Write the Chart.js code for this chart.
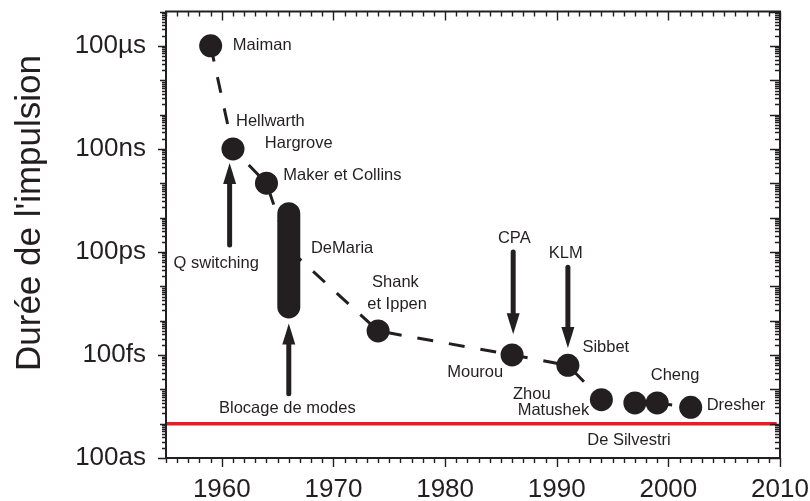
<!DOCTYPE html>
<html>
<head>
<meta charset="utf-8">
<script src="https://cdn.jsdelivr.net/npm/chart.js@4.4.0/dist/chart.umd.min.js"></script>
<style>
  html, body { margin: 0; padding: 0; background: #fff; }
  #wrap { width: 810px; height: 501px; }
</style>
</head>
<body>
<div id="wrap"><canvas id="mainChart" width="810" height="501"></canvas></div>
<script>
// milestones of the shortest laser pulse (year, duration in s)
const years = [1959, 1961, 1964, 1966, 1974, 1986, 1991, 1994, 1997, 1999, 2002];
const durations = [1e-4, 1e-7, 1e-8, 1.2e-10, 5e-13, 1e-13, 5e-14, 5e-15, 4e-15, 4e-15, 3e-15];
const pointNames = ["Maiman", "Hellwarth", "Maker et Collins", "DeMaria", "Shank et Ippen",
  "Mourou", "Sibbet", "Zhou", "", "Cheng", "Dresher"];

// spread of the DeMaria mode-locked pulses
const demariaYears = [1966, 1966];
const demariaRange = [1.3e-9, 2.5e-12];

// the red 1 fs line
const limitYears = [1955, 2009.7];
const limitValues = [1e-15, 1e-15];

// axis ticks
const xTickValues = [1960, 1970, 1980, 1990, 2000, 2010];
const yTickValues = [1e-16, 1e-13, 1e-10, 1e-7, 1e-4];
const yTickLabels = ["100as", "100fs", "100ps", "100ns", "100µs"];

// text notes anchored at (year, duration)
const noteTexts = ["Maiman", "Hellwarth", "Hargrove", "Maker et Collins", "Q switching", "DeMaria",
  "Shank", "et Ippen", "CPA", "KLM", "Sibbet", "Mourou", "Cheng", "Zhou", "Matushek", "Dresher",
  "De Silvestri", "Blocage de modes"];
const noteYears = [1960.99, 1961.27, 1963.85, 1965.5, 1959.5, 1967.98,
  1975.55, 1975.7, 1986.2, 1990.8, 1992.3, 1982.7, 2000.6, 1986.08, 1986.5, 2003.43,
  1996.47, 1965.87];
const noteValues = [1e-4, 6.3e-7, 1.45e-7, 1.66e-8, 4.6e-11, 1.3e-10,
  1.26e-11, 2.9e-12, 2.5e-10, 9.3e-11, 1.7e-13, 3.2e-14, 2.6e-14, 6.9e-15, 2.5e-15, 3.4e-15,
  3.2e-16, 2.7e-15];
const noteAligns = ["left", "left", "left", "left", "center", "left",
  "center", "center", "center", "center", "left", "center", "center", "left", "left", "left",
  "center", "center"];

// arrows: year, tail value, tip value
const arrowYears = [1960.7, 1966, 1986.1, 1991];
const arrowFrom = [1.6e-10, 7.4e-15, 1e-10, 3.6e-11];
const arrowTo = [3.9e-8, 8.3e-13, 4e-13, 1.6e-13];

const ink = "#231f20";
const fontFamily = "'Liberation Sans', Arial, Helvetica, sans-serif";

// frame, minor ticks, arrows, notes and the axis title
const decorations = {
  id: "decorations",
  afterDatasetsDraw(chart) {
    const { ctx, chartArea: a, scales } = chart;
    const x = scales.x;
    const y = scales.y;
    ctx.save();

    ctx.strokeStyle = ink;
    ctx.lineWidth = 1.4;
    ctx.beginPath();
    for (let yr = 1955; yr <= 2010; yr++) {
      const px = Math.round(x.getPixelForValue(yr)) + 0.5;
      const len = yr % 10 === 0 ? 9 : 5;
      ctx.moveTo(px, a.bottom);
      ctx.lineTo(px, a.bottom + len);
      ctx.moveTo(px, a.top);
      ctx.lineTo(px, a.top + len);
    }
    for (let e = -16; e <= -3; e++) {
      for (let k = 1; k <= 9; k++) {
        if (e === -3 && k > 1) break;
        const py = Math.round(y.getPixelForValue(k * Math.pow(10, e))) + 0.5;
        let left = 4;
        let right = 5;
        if (k === 1) {
          left = (e + 16) % 3 === 0 ? 8 : 6;
          right = 10;
        }
        ctx.moveTo(a.left - left, py);
        ctx.lineTo(a.left, py);
        ctx.moveTo(a.right - right, py);
        ctx.lineTo(a.right, py);
      }
    }
    ctx.stroke();

    ctx.lineWidth = 2;
    ctx.strokeRect(a.left, a.top, a.right - a.left, a.bottom - a.top);

    // arrows
    ctx.fillStyle = ink;
    arrowYears.forEach((yr, i) => {
      const px = x.getPixelForValue(yr);
      const y0 = y.getPixelForValue(arrowFrom[i]);
      const y1 = y.getPixelForValue(arrowTo[i]);
      const dir = Math.sign(y1 - y0);
      const head = 21;
      ctx.lineWidth = 5;
      ctx.lineCap = "round";
      ctx.beginPath();
      ctx.moveTo(px, y0);
      ctx.lineTo(px, y1 - dir * (head - 2));
      ctx.stroke();
      ctx.beginPath();
      ctx.moveTo(px, y1);
      ctx.lineTo(px - 6.5, y1 - dir * head);
      ctx.lineTo(px + 6.5, y1 - dir * head);
      ctx.closePath();
      ctx.fill();
    });

    // notes
    ctx.font = "16.5px " + fontFamily;
    ctx.textBaseline = "middle";
    noteTexts.forEach((t, i) => {
      ctx.textAlign = noteAligns[i];
      ctx.fillText(t, x.getPixelForValue(noteYears[i]), y.getPixelForValue(noteValues[i]));
    });

    // y axis title
    ctx.translate(30, 213);
    ctx.rotate(-Math.PI / 2);
    ctx.textAlign = "center";
    ctx.font = "35px " + fontFamily;
    ctx.fillText("Durée de l'impulsion", 0, 0);
    ctx.restore();
  },
};

const ctx = document.getElementById("mainChart").getContext("2d");

const mainChart = new Chart(ctx, {
  type: "line",
  data: {
    datasets: [
      {
        label: "DeMaria",
        data: demariaYears.map((yr, i) => ({ x: yr, y: demariaRange[i] })),
        borderColor: ink,
        borderWidth: 23,
        borderCapStyle: "round",
        pointRadius: 0,
        order: 0,
      },
      {
        label: "Durée",
        data: years.map((yr, i) => ({ x: yr, y: durations[i] })),
        borderColor: ink,
        borderWidth: 3,
        borderDash: [16, 16],
        pointRadius: (c) => (pointNames[c.dataIndex] === "DeMaria" ? 0 : 11.5),
        pointBackgroundColor: ink,
        pointBorderWidth: 0,
        tension: 0,
        order: 1,
      },
      {
        label: "De Silvestri",
        data: limitYears.map((yr, i) => ({ x: yr, y: limitValues[i] })),
        borderColor: "#ed1c24",
        borderWidth: 3.5,
        pointRadius: 0,
        order: 2,
      },
    ],
  },
  options: {
    responsive: false,
    animation: false,
    layout: { padding: { left: 0, right: 30, top: 7, bottom: 0 } },
    plugins: { legend: { display: false }, tooltip: { enabled: false } },
    scales: {
      x: {
        type: "linear",
        min: 1955,
        max: 2010,
        grid: { display: false, drawTicks: false },
        border: { display: false },
        afterBuildTicks: (scale) => {
          scale.ticks = xTickValues.map((v) => ({ value: v }));
        },
        afterFit: (scale) => {
          scale.height = 43;
          scale.paddingLeft = 0;
          scale.paddingRight = 0;
        },
        ticks: {
          autoSkip: false,
          maxRotation: 0,
          padding: 16,
          color: ink,
          font: { family: fontFamily, size: 26 },
          callback: (value) => String(value),
        },
      },
      y: {
        type: "logarithmic",
        min: 1e-16,
        max: 1e-3,
        grid: { display: false, drawTicks: false },
        border: { display: false },
        afterBuildTicks: (scale) => {
          scale.ticks = yTickValues.map((v) => ({ value: v }));
        },
        afterFit: (scale) => {
          scale.width = 166;
          scale.paddingTop = 0;
          scale.paddingBottom = 0;
        },
        ticks: {
          autoSkip: false,
          padding: 20,
          color: ink,
          font: { family: fontFamily, size: 26 },
          callback: (value, index) => yTickLabels[index],
        },
      },
    },
  },
  plugins: [decorations],
});
</script>
</body>
</html>
